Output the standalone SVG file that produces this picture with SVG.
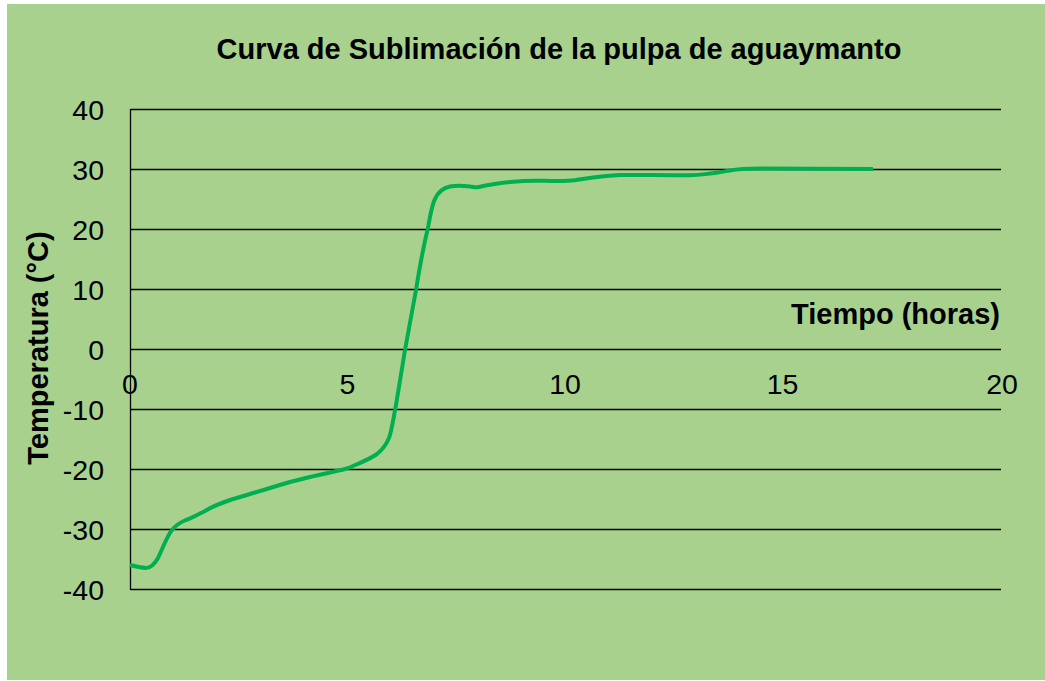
<svg xmlns="http://www.w3.org/2000/svg" width="1045" height="681" viewBox="0 0 1045 681">
<style>
.grid{stroke:#000;stroke-width:1.3;fill:none}
.tick{font-family:"Liberation Sans",Arial,sans-serif;font-size:28.5px;fill:#000}
.bold{font-family:"Liberation Sans",Arial,sans-serif;font-size:29px;font-weight:bold;fill:#000}
.curve{stroke:#00B050;stroke-width:4;fill:none;stroke-linejoin:round;stroke-linecap:butt}
</style>
<rect x="0" y="0" width="1045" height="681" fill="#fff"/>
<rect x="7" y="4" width="1038" height="676" fill="#A9D18E"/>
<g id="grid">
<line class="grid" x1="130.5" y1="109.5" x2="1001" y2="109.5"/>
<line class="grid" x1="130.5" y1="169.5" x2="1001" y2="169.5"/>
<line class="grid" x1="130.5" y1="229.5" x2="1001" y2="229.5"/>
<line class="grid" x1="130.5" y1="289.5" x2="1001" y2="289.5"/>
<line class="grid" x1="130.5" y1="349.5" x2="1001" y2="349.5"/>
<line class="grid" x1="130.5" y1="409.5" x2="1001" y2="409.5"/>
<line class="grid" x1="130.5" y1="469.5" x2="1001" y2="469.5"/>
<line class="grid" x1="130.5" y1="529.5" x2="1001" y2="529.5"/>
<line class="grid" x1="130.5" y1="589.5" x2="1001" y2="589.5"/>
<line class="grid" x1="130.5" y1="109" x2="130.5" y2="590"/>
</g>
<g id="y-ticks" class="tick" text-anchor="end">
<text x="104" y="120">40</text>
<text x="104" y="180">30</text>
<text x="104" y="240">20</text>
<text x="104" y="300">10</text>
<text x="104" y="360">0</text>
<text x="104" y="420">-10</text>
<text x="104" y="480">-20</text>
<text x="104" y="540">-30</text>
<text x="104" y="600">-40</text>
</g>
<g id="x-ticks" class="tick" text-anchor="middle">
<text x="130" y="394">0</text>
<text x="347.5" y="394">5</text>
<text x="565" y="394">10</text>
<text x="782.5" y="394">15</text>
<text x="1002" y="394">20</text>
</g>
<g id="connectors">
<path class="curve" d="M130,565 C134,566 140,567.5 146,568 C150,568 154,565 158,558 C162,550 167,536 172,530 C176,525 181,522 186,520 C193,517.5 199,514 205,511 C210,508 217,504.5 230,500 L250,494 L270,488 L290,482 L310,477 C320,474.5 338,471 345,469 C349,468 351,467 353,466 C360,463 370,459 377,454 C382,450 386,445 389,438 C392,430 394,415 396,405 L405,350 L416,290 C420,265 425,240 428,228 C430,216 432,205 435,199 C438,192 443,188 450,186.5 C458,185 466,186 470,186.5 C474,187 475,188 479,187 C487,185 500,183 510,182 C520,181 535,180.5 545,180.8 C555,181 565,181.5 575,180.2 C590,178 605,175.5 620,175 C640,174.8 660,175.3 690,175.3 C705,175 715,173 730,170.5 C738,169 745,168.5 760,168.5 L873,169"/>
</g>
<text id="title" class="bold" x="559" y="59" text-anchor="middle">Curva de Sublimación de la pulpa de aguaymanto</text>
<text id="x-title" class="bold" x="1000" y="324" text-anchor="end">Tiempo (horas)</text>
<text id="y-title" class="bold" transform="translate(48,348) rotate(-90)" text-anchor="middle">Temperatura (°C)</text>
</svg>
